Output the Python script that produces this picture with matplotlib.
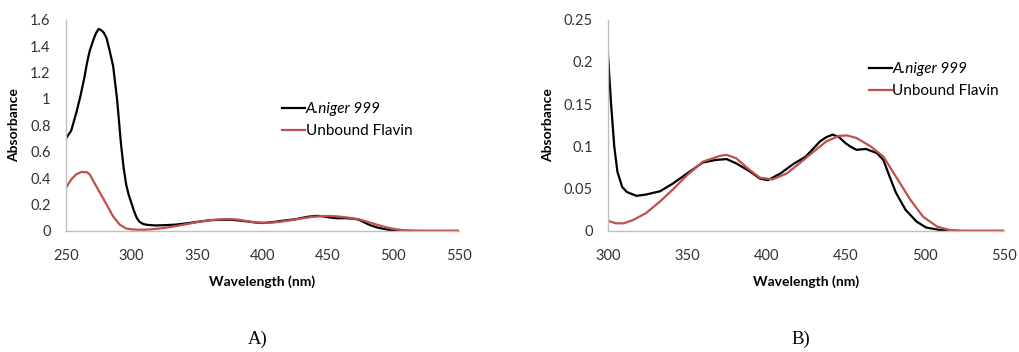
import numpy as np
import matplotlib.pyplot as plt

# ---------------------------------------------------------------
# absorbance spectra

wl_black = [250, 254, 258, 261, 264, 266, 268, 271, 273, 275, 277, 279, 281, 283, 286,
            289, 292, 294, 296, 298, 300, 302, 304, 306, 309, 312, 318, 324, 333,
            341, 350, 360, 368, 375, 381, 390, 396, 401, 409, 417, 425, 434, 438,
            442, 446, 450, 453, 457, 463, 470, 474, 478, 482, 488, 495, 501, 510,
            520, 550]
abs_black = [0.70, 0.76, 0.90, 1.02, 1.16, 1.27, 1.36, 1.45, 1.50, 1.53, 1.52, 1.50, 1.46,
             1.38, 1.25, 1.00, 0.66, 0.48, 0.35, 0.27, 0.21, 0.15, 0.10, 0.07,
             0.052, 0.046, 0.0415, 0.043, 0.047, 0.056, 0.068, 0.081, 0.084,
             0.085, 0.080, 0.070, 0.062, 0.060, 0.068, 0.079, 0.088, 0.106, 0.111,
             0.114, 0.111, 0.104, 0.100, 0.096, 0.097, 0.092, 0.084, 0.064, 0.045,
             0.025, 0.011, 0.004, 0.001, 0.0, 0.0]

wl_red = [250, 254, 258, 262, 266, 268, 271, 276, 281, 286, 291, 296, 300, 305, 310,
          316, 324, 333, 341, 350, 360, 371, 375, 381, 390, 396, 404, 413, 421,
          430, 438, 446, 451, 457, 466, 474, 482, 491, 499, 508, 516, 525, 550]
abs_red = [0.326, 0.39, 0.43, 0.447, 0.444, 0.43, 0.376, 0.288, 0.20, 0.11, 0.048,
           0.018, 0.012, 0.009, 0.009, 0.013, 0.021, 0.035, 0.049, 0.066, 0.082,
           0.089, 0.090, 0.086, 0.0715, 0.063, 0.061, 0.068, 0.080, 0.094, 0.106,
           0.1125, 0.113, 0.110, 0.100, 0.088, 0.064, 0.037, 0.017, 0.005, 0.001,
           0.0, 0.0]

labels = ['A.niger 999', 'Unbound Flavin']
panels = ['A)', 'B)']
xlims = [(250, 550), (300, 550)]
ylims = [(0, 1.6), (0, 0.25)]
yticks = [[0, 0.2, 0.4, 0.6, 0.8, 1, 1.2, 1.4, 1.6],
          [0, 0.05, 0.1, 0.15, 0.2, 0.25]]
xticks = [[250, 300, 350, 400, 450, 500, 550],
          [300, 350, 400, 450, 500, 550]]

plt.rcParams['font.family'] = ['Lato', 'DejaVu Sans']
fig = plt.figure(figsize=(10.2, 3.52), dpi=100)

axes_pos = [[0.0647, 0.344, 0.385, 0.6], [0.596, 0.344, 0.388, 0.6]]
leg_pos = [(0.55, 0.61), (0.659, 0.80)]
gray = '#bfbfbf'
red = '#c0504d'

for i in range(2):
    ax = fig.add_axes(axes_pos[i])
    ax.plot(wl_black, abs_black, color='black', lw=1.6, label=labels[0])
    ax.plot(wl_red, abs_red, color=red, lw=1.6, label=labels[1])
    ax.set_xlim(*xlims[i])
    ax.set_ylim(*ylims[i])
    ax.set_xticks(xticks[i])
    ax.set_yticks(yticks[i])
    ax.set_yticklabels([f'{v:g}' for v in yticks[i]])
    ax.tick_params(length=0, labelsize=10.5, colors='#333333')
    ax.tick_params(axis='x', pad=13)
    ax.tick_params(axis='y', pad=11)
    for s in ['top', 'right']:
        ax.spines[s].set_visible(False)
    for s in ['left', 'bottom']:
        ax.spines[s].set_color(gray)
        ax.spines[s].set_linewidth(1.0)
    ax.set_xlabel('Wavelength (nm)', fontsize=10, fontweight='bold', labelpad=9)
    ax.set_ylabel('Absorbance', fontsize=10, fontweight='bold', labelpad=7)
    leg = ax.legend(loc='upper left', bbox_to_anchor=leg_pos[i], frameon=False,
                    fontsize=11, handlelength=1.5, handletextpad=0.05,
                    labelspacing=0.55, borderaxespad=0, borderpad=0)
    leg.get_texts()[0].set_fontstyle('italic')
    fig.text(axes_pos[i][0] + axes_pos[i][2] / 2 - 0.005, 0.035, panels[i],
             ha='center', va='center', fontsize=13.5, family='Liberation Serif')

plt.savefig('out.png', dpi=100)
